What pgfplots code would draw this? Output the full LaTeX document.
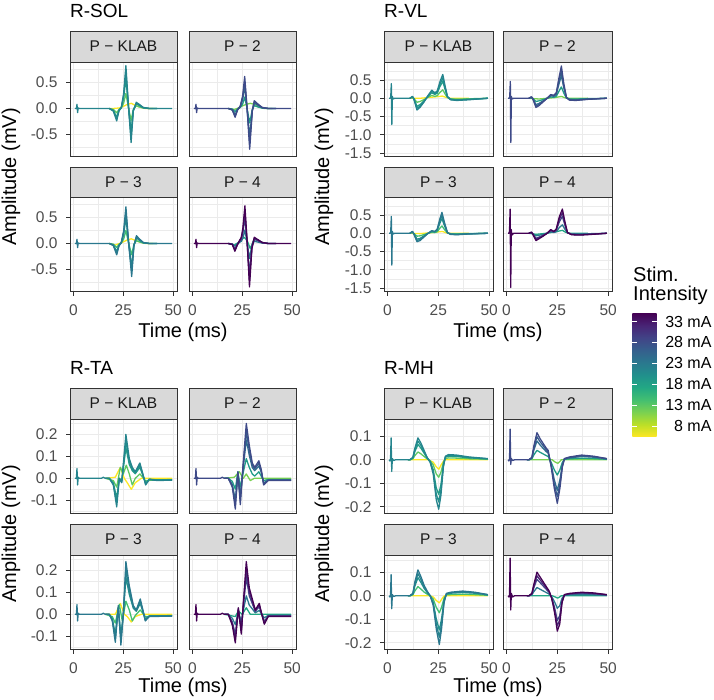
\documentclass[border=0pt]{standalone}
\usepackage{fontspec}
\setmainfont{Liberation Sans}
\usepackage{pgfplots}
\pgfplotsset{compat=1.18}
\definecolor{grey10}{HTML}{1A1A1A}
\definecolor{grey20}{HTML}{333333}
\definecolor{grey30}{HTML}{4D4D4D}
\definecolor{grey85}{HTML}{D9D9D9}
\definecolor{grey92}{HTML}{EBEBEB}
\definecolor{v00}{HTML}{440154}
\definecolor{v10}{HTML}{482576}
\definecolor{v20}{HTML}{414487}
\definecolor{v30}{HTML}{35608D}
\definecolor{v40}{HTML}{2A788E}
\definecolor{v50}{HTML}{21908C}
\definecolor{v60}{HTML}{22A884}
\definecolor{v70}{HTML}{43BF71}
\definecolor{v80}{HTML}{7AD151}
\definecolor{v90}{HTML}{BBDF27}
\definecolor{v100}{HTML}{FDE725}
\colorlet{t045}{v40!50!v50}
\colorlet{t075}{v70!50!v80}
\colorlet{t055}{v50!50!v60}
\colorlet{t022}{v20!80!v30}
\colorlet{t028}{v30!80!v20}
\colorlet{t035}{v30!50!v40}
\newcommand\fsz[1]{\fontsize{#1}{#1}\selectfont}
\pgfdeclareverticalshading{viridisbar}{100bp}{color(0bp)=(v100); color(25bp)=(v100); color(30bp)=(v90); color(35bp)=(v80); color(40bp)=(v70); color(45bp)=(v60); color(50bp)=(v50); color(55bp)=(v40); color(60bp)=(v30); color(65bp)=(v20); color(70bp)=(v10); color(75bp)=(v00); color(100bp)=(v00)}
\pgfplotsset{
  facet/.style={
    scale only axis, height=94.5pt, anchor=north west,
    xmin=-1.7, xmax=51.9,
    xtick={0,25,50}, xticklabels={0,25,50}, minor xtick={12.5,37.5},
    grid=both,
    major grid style={draw=grey92, line width=1.1pt},
    minor grid style={draw=grey92, line width=0.55pt},
    axis line style={draw=grey20, line width=0.9pt},
    tick align=outside, tick pos=left,
    major tick length=4pt, minor tick length=0pt,
    tick style={draw=grey20, line width=0.9pt},
    ticklabel style={font=\fsz{15.5}, text=grey30},
    xticklabel style={yshift=-5.5pt},
    yticklabel style={xshift=-5pt},
    every axis plot/.append style={line width=1.3pt, line join=round},
  },
  noxl/.style={xticklabels={}, major x tick style={draw=none}},
  noyl/.style={yticklabels={}, major y tick style={draw=none}},
  wa/.style={width=107pt},
  wb/.style={width=109pt},
  sol/.style={ymin=-0.93, ymax=0.90, ytick={-0.5,0,0.5}, yticklabels={-0.5,0.0,0.5}, minor ytick={-0.75,-0.25,0.25,0.75}},
  vl/.style={ymin=-1.59, ymax=0.99, ytick={-1.5,-1,-0.5,0,0.5}, yticklabels={-1.5,-1.0,-0.5,0.0,0.5}, minor ytick={-1.25,-0.75,-0.25,0.25,0.75}},
  ta/.style={ymin=-0.16, ymax=0.27, ytick={-0.1,0,0.1,0.2}, yticklabels={-0.1,0.0,0.1,0.2}, minor ytick={-0.15,-0.05,0.05,0.15,0.25}},
  mh/.style={ymin=-0.228, ymax=0.173, ytick={-0.2,-0.1,0,0.1}, yticklabels={-0.2,-0.1,0.0,0.1}, minor ytick={-0.15,-0.05,0.05,0.15}},
}
\newcommand\strip[5]{%
  \draw[fill=grey85,draw=grey20,line width=0.9pt] (#1pt,-#2pt) rectangle (#3pt,-#4pt);
  \node[font=\fsz{15.5},text=grey10,inner sep=0] at ({(#1+#3)/2*1pt},{-(#2+#4)/2*1pt}) {#5};}
\begin{document}
\begin{tikzpicture}
\useasboundingbox (0pt,0pt) rectangle (714pt,-699pt);
% ================= R-SOL =================
\begin{axis}[facet, wa, sol, noxl, at={(70pt,-62pt)}]
\addplot[v100] coordinates {(18,0)(20,0)(23,0.01)(25,0.04)(27,0.08)(29,0.1)(31,0.06)(33,0.03)(36,0)(40,0)};
\addplot[t075] coordinates {(18,0)(20,-0.018)(21.7,-0.084)(22.8,-0.018)(24,0.007)(25.2,0.105)(26.3,0.29)(27.5,0.035)(28.9,-0.23)(30,-0.018)(31.5,0.05)(33,0.03)(35,0.007)(38,0)(42,0)};
\addplot[t055] coordinates {(18,0)(20,-0.035)(21.7,-0.17)(22.8,-0.035)(24,0.014)(25.2,0.21)(26.3,0.58)(27.5,0.07)(28.9,-0.46)(30,-0.035)(31.5,0.09)(33,0.056)(35,0.014)(38,0)(42,0)};
\addplot[v50] coordinates {(18,0)(20,-0.043)(21.7,-0.204)(22.8,-0.043)(24,0.017)(25.2,0.255)(26.3,0.706)(27.5,0.085)(28.9,-0.561)(30,-0.043)(31.5,0.102)(33,0.068)(35,0.017)(38,0)(42,0)};
\addplot[t045] coordinates {(0.8,0)(1.5,0)(1.8,0.08)(2.1,-0.08)(2.4,0.01)(3,0)(18,0)(20,-0.05)(21.7,-0.24)(22.8,-0.05)(24,0.02)(25.2,0.3)(26.3,0.83)(27.5,0.1)(28.9,-0.66)(30,-0.05)(31.5,0.12)(33,0.08)(35,0.02)(38,0)(49.4,0)};
\end{axis}
\begin{axis}[facet, wa, sol, noxl, noyl, at={(189pt,-62pt)}]
\addplot[v80] coordinates {(18,0)(21,-0.02)(23,0.01)(25,0.05)(27,0.08)(29,0.1)(31,0.08)(33,0.03)(36,0)(40,0)};
\addplot[t055] coordinates {(18,0)(20,-0.01)(21.4,-0.06)(22.6,-0.01)(24,0.018)(25.2,0.088)(26.2,0.22)(27.4,0)(28.7,-0.28)(30,-0.018)(31,0.053)(33,0.028)(35,0.007)(38,0)(42,0)};
\addplot[t035] coordinates {(18,0)(20,-0.021)(21.4,-0.12)(22.6,-0.021)(24,0.035)(25.2,0.175)(26.2,0.43)(27.4,0)(28.7,-0.55)(30,-0.035)(31,0.105)(33,0.056)(35,0.014)(38,0)(42,0)};
\addplot[t028] coordinates {(18,0)(20,-0.026)(21.4,-0.145)(22.6,-0.026)(24,0.043)(25.2,0.213)(26.2,0.527)(27.4,0)(28.7,-0.672)(30,-0.043)(31,0.128)(33,0.068)(35,0.017)(38,0)(42,0)};
\addplot[t022] coordinates {(0.8,0)(1.5,0)(1.8,0.08)(2.1,-0.08)(2.4,0.01)(3,0)(18,0)(20,-0.03)(21.4,-0.17)(22.6,-0.03)(24,0.05)(25.2,0.25)(26.2,0.62)(27.4,0)(28.7,-0.79)(30,-0.05)(31,0.15)(33,0.08)(35,0.02)(38,0)(49.4,0)};
\end{axis}
\begin{axis}[facet, wa, sol, at={(70pt,-197pt)}]
\addplot[v100] coordinates {(18,0)(21,-0.03)(23,0)(25,0.03)(27,0.07)(29,0.09)(31,0.06)(33,0.03)(36,0)(40,0)};
\addplot[v70] coordinates {(18,0)(20,-0.014)(21.7,-0.077)(22.8,-0.018)(24,0.007)(25.2,0.088)(26.3,0.25)(27.6,0.018)(29.2,-0.22)(30.3,-0.018)(31.6,0.053)(33,0.032)(35,0.007)(38,0)(42,0)};
\addplot[v50] coordinates {(18,0)(20,-0.028)(21.7,-0.154)(22.8,-0.035)(24,0.014)(25.2,0.175)(26.3,0.5)(27.6,0.035)(29.2,-0.45)(30.3,-0.035)(31.6,0.105)(33,0.063)(35,0.014)(38,0)(42,0)};
\addplot[t045] coordinates {(18,0)(20,-0.034)(21.7,-0.187)(22.8,-0.043)(24,0.017)(25.2,0.213)(26.3,0.604)(27.6,0.043)(29.2,-0.544)(30.3,-0.043)(31.6,0.128)(33,0.077)(35,0.017)(38,0)(42,0)};
\addplot[v40] coordinates {(0.8,0)(1.5,0)(1.8,0.08)(2.1,-0.08)(2.4,0.01)(3,0)(18,0)(20,-0.04)(21.7,-0.22)(22.8,-0.05)(24,0.02)(25.2,0.25)(26.3,0.71)(27.6,0.05)(29.2,-0.64)(30.3,-0.05)(31.6,0.15)(33,0.09)(35,0.02)(38,0)(49.4,0)};
\end{axis}
\begin{axis}[facet, wa, sol, noyl, at={(189pt,-197pt)}]
\addplot[v60] coordinates {(18,0)(21,-0.03)(23,0.02)(24.5,0.08)(26,0.12)(27.5,0.05)(29,-0.1)(30.5,0.05)(32,0.08)(35,0.02)(38,0)};
\addplot[v40] coordinates {(18,0)(20,-0.007)(21.3,-0.053)(22.5,-0.01)(23.5,0.018)(24.5,0.042)(25.3,0.105)(26.3,0.26)(27.4,0.018)(28.6,-0.29)(29.8,-0.035)(31,0.042)(33,0.025)(35,0.007)(38,0)(42,0)};
\addplot[v20] coordinates {(18,0)(20,-0.014)(21.3,-0.105)(22.5,-0.021)(23.5,0.035)(24.5,0.084)(25.3,0.21)(26.3,0.51)(27.4,0.035)(28.6,-0.59)(29.8,-0.07)(31,0.084)(33,0.049)(35,0.014)(38,0)(42,0)};
\addplot[v10] coordinates {(18,0)(20,-0.017)(21.3,-0.128)(22.5,-0.026)(23.5,0.043)(24.5,0.102)(25.3,0.255)(26.3,0.62)(27.4,0.043)(28.6,-0.714)(29.8,-0.085)(31,0.102)(33,0.06)(35,0.017)(38,0)(42,0)};
\addplot[v00] coordinates {(0.8,0)(1.5,0)(1.8,0.08)(2.1,-0.08)(2.4,0.01)(3,0)(18,0)(20,-0.02)(21.3,-0.15)(22.5,-0.03)(23.5,0.05)(24.5,0.12)(25.3,0.3)(26.3,0.73)(27.4,0.05)(28.6,-0.84)(29.8,-0.1)(31,0.12)(33,0.07)(35,0.02)(38,0)(49.4,0)};
\end{axis}
% ================= R-VL =================
\begin{axis}[facet, wb, vl, noxl, at={(384pt,-62pt)}]
\addplot[v100] coordinates {(11,0)(16,0)(20,0.02)(24,0.04)(27,0.06)(29,0.02)(31,0)(40,0)};
\addplot[t075] coordinates {(11,0)(12.3,0.018)(13,-0.007)(14.5,-0.11)(16,-0.088)(18,-0.035)(20,0.028)(21.8,0.077)(23.3,0.053)(24.5,0.07)(25.8,0.16)(27.2,0.23)(28.3,0.12)(29.5,0.018)(31,-0.014)(34,-0.021)(40,-0.014)(49.4,0)};
\addplot[t055] coordinates {(11,0)(12.3,0.035)(13,-0.014)(14.5,-0.22)(16,-0.175)(18,-0.07)(20,0.056)(21.8,0.15)(23.3,0.105)(24.5,0.14)(25.8,0.32)(27.2,0.46)(28.3,0.25)(29.5,0.035)(31,-0.028)(34,-0.042)(40,-0.028)(49.4,0)};
\addplot[v50] coordinates {(11,0)(12.3,0.043)(13,-0.017)(14.5,-0.272)(16,-0.213)(18,-0.085)(20,0.068)(21.8,0.187)(23.3,0.128)(24.5,0.17)(25.8,0.383)(27.2,0.553)(28.3,0.298)(29.5,0.043)(31,-0.034)(34,-0.051)(40,-0.034)(49.4,0)};
\addplot[t045] coordinates {(0.8,0)(1.3,0)(1.6,0.02)(1.9,0.4)(2.15,-0.72)(2.4,0.05)(2.8,-0.02)(3.5,0)(11,0)(12.3,0.05)(13,-0.02)(14.5,-0.32)(16,-0.25)(18,-0.1)(20,0.08)(21.8,0.22)(23.3,0.15)(24.5,0.2)(25.8,0.45)(27.2,0.65)(28.3,0.35)(29.5,0.05)(31,-0.04)(34,-0.06)(40,-0.04)(49.4,0)};
\end{axis}
\begin{axis}[facet, wb, vl, noxl, noyl, at={(503pt,-62pt)}]
\addplot[v80] coordinates {(11,0)(16,-0.02)(20,0)(24,0.02)(27,0.05)(29,0.01)(31,0)(40,0)};
\addplot[t055] coordinates {(11,0)(12.3,0.014)(13,-0.007)(14.5,-0.088)(16,-0.07)(18,-0.035)(20,0)(21.8,0.035)(23.3,0.028)(24.5,0.053)(25.8,0.19)(27,0.31)(28.2,0.14)(29.5,0.007)(31,-0.018)(34,-0.021)(40,-0.01)(49.4,0)};
\addplot[t035] coordinates {(11,0)(12.3,0.028)(13,-0.014)(14.5,-0.175)(16,-0.14)(18,-0.07)(20,0)(21.8,0.07)(23.3,0.056)(24.5,0.105)(25.8,0.385)(27,0.62)(28.2,0.28)(29.5,0.014)(31,-0.035)(34,-0.042)(40,-0.021)(49.4,0)};
\addplot[t028] coordinates {(11,0)(12.3,0.034)(13,-0.017)(14.5,-0.213)(16,-0.17)(18,-0.085)(20,0)(21.8,0.085)(23.3,0.068)(24.5,0.128)(25.8,0.468)(27,0.748)(28.2,0.34)(29.5,0.017)(31,-0.043)(34,-0.051)(40,-0.026)(49.4,0)};
\addplot[t022] coordinates {(0.8,0)(1.3,0)(1.6,0.03)(1.9,0.46)(2.15,-1.21)(2.4,0.05)(2.8,-0.02)(3.5,0)(11,0)(12.3,0.04)(13,-0.02)(14.5,-0.25)(16,-0.2)(18,-0.1)(20,0)(21.8,0.1)(23.3,0.08)(24.5,0.15)(25.8,0.55)(27,0.88)(28.2,0.4)(29.5,0.02)(31,-0.05)(34,-0.06)(40,-0.03)(49.4,0)};
\end{axis}
\begin{axis}[facet, wb, vl, at={(384pt,-197pt)}]
\addplot[v100] coordinates {(11,0)(16,-0.01)(20,0.01)(24,0.03)(27,0.05)(29,0.01)(31,0)(40,0)};
\addplot[v70] coordinates {(11,0)(12.3,0.018)(13,-0.007)(14.5,-0.08)(16,-0.07)(18,-0.035)(20,0)(21.8,0.025)(23.3,0.018)(24.5,0.042)(25.8,0.14)(26.8,0.2)(28,0.105)(29.5,0.007)(31,-0.01)(34,-0.014)(40,-0.007)(49.4,0)};
\addplot[v50] coordinates {(11,0)(12.3,0.035)(13,-0.014)(14.5,-0.16)(16,-0.14)(18,-0.07)(20,0)(21.8,0.05)(23.3,0.035)(24.5,0.084)(25.8,0.28)(26.8,0.4)(28,0.21)(29.5,0.014)(31,-0.021)(34,-0.028)(40,-0.014)(49.4,0)};
\addplot[t045] coordinates {(11,0)(12.3,0.043)(13,-0.017)(14.5,-0.196)(16,-0.17)(18,-0.085)(20,0)(21.8,0.06)(23.3,0.043)(24.5,0.102)(25.8,0.34)(26.8,0.485)(28,0.255)(29.5,0.017)(31,-0.026)(34,-0.034)(40,-0.017)(49.4,0)};
\addplot[v40] coordinates {(0.8,0)(1.3,0)(1.6,0.03)(1.9,0.46)(2.15,-0.87)(2.4,0.05)(2.8,-0.02)(3.5,0)(11,0)(12.3,0.05)(13,-0.02)(14.5,-0.23)(16,-0.2)(18,-0.1)(20,0)(21.8,0.07)(23.3,0.05)(24.5,0.12)(25.8,0.4)(26.8,0.57)(28,0.3)(29.5,0.02)(31,-0.03)(34,-0.04)(40,-0.02)(49.4,0)};
\end{axis}
\begin{axis}[facet, wb, vl, noyl, at={(503pt,-197pt)}]
\addplot[v60] coordinates {(11,0)(14.5,-0.03)(18,-0.01)(22,0.02)(25,0.05)(27.5,0.08)(29,0.03)(31,0)(40,0)};
\addplot[v40] coordinates {(11,0)(12.3,0.01)(13,-0.01)(14.5,-0.07)(16,-0.053)(18,-0.028)(20,0)(21.8,0.035)(23.3,0.018)(24.5,0.042)(26,0.158)(27.5,0.23)(28.8,0.105)(30,0.007)(32,-0.014)(36,-0.018)(42,-0.01)(49.4,0)};
\addplot[v20] coordinates {(11,0)(12.3,0.021)(13,-0.021)(14.5,-0.14)(16,-0.105)(18,-0.056)(20,0)(21.8,0.07)(23.3,0.035)(24.5,0.084)(26,0.315)(27.5,0.46)(28.8,0.21)(30,0.014)(32,-0.028)(36,-0.035)(42,-0.021)(49.4,0)};
\addplot[v10] coordinates {(11,0)(12.3,0.026)(13,-0.026)(14.5,-0.17)(16,-0.128)(18,-0.068)(20,0)(21.8,0.085)(23.3,0.043)(24.5,0.102)(26,0.383)(27.5,0.561)(28.8,0.255)(30,0.017)(32,-0.034)(36,-0.043)(42,-0.026)(49.4,0)};
\addplot[v00] coordinates {(0.8,0)(1.2,0)(1.5,0.05)(1.8,0.66)(2.1,-1.48)(2.35,0.1)(2.7,-0.05)(3.5,0)(11,0)(12.3,0.03)(13,-0.03)(14.5,-0.2)(16,-0.15)(18,-0.08)(20,0)(21.8,0.1)(23.3,0.05)(24.5,0.12)(26,0.45)(27.5,0.66)(28.8,0.3)(30,0.02)(32,-0.04)(36,-0.05)(42,-0.03)(49.4,0)};
\end{axis}
% ================= R-TA =================
\begin{axis}[facet, wa, ta, noxl, at={(70pt,-419pt)}]
\addplot[v100] coordinates {(16,0)(21,0.005)(23.5,0.05)(25.5,0)(27,-0.02)(29,-0.05)(31,-0.02)(34,0)(49.4,0)};
\addplot[t075] coordinates {(16,0)(20,-0.01)(21.7,-0.04)(23.5,0.05)(25,0.02)(26.5,0.06)(28,0.02)(29.5,-0.03)(31,0)(33.3,0.02)(36,-0.01)(49.4,-0.005)};
\addplot[t055] coordinates {(16,0)(18,0)(20,-0.021)(21.7,-0.09)(23,0)(24.2,-0.014)(26.3,0.14)(28,0.063)(29.5,0.035)(31,0.021)(33.3,0.05)(34.5,0.021)(36.2,-0.021)(38,-0.004)(42,-0.007)(49.4,-0.006)};
\addplot[v50] coordinates {(16,0)(18,0)(20,-0.026)(21.7,-0.11)(23,0)(24.2,-0.017)(26.3,0.17)(28,0.077)(29.5,0.043)(31,0.026)(33.3,0.06)(34.5,0.026)(36.2,-0.026)(38,-0.004)(42,-0.009)(49.4,-0.007)};
\addplot[t045] coordinates {(0.8,0)(1.5,0)(1.8,0.045)(2.1,-0.03)(2.4,0.005)(3,0)(14,0)(15,0.005)(16,0)(18,0)(20,-0.03)(21.7,-0.13)(23,0)(24.2,-0.02)(26.3,0.2)(28,0.09)(29.5,0.05)(31,0.03)(33.3,0.07)(34.5,0.03)(36.2,-0.03)(38,-0.005)(42,-0.01)(49.4,-0.008)};
\end{axis}
\begin{axis}[facet, wa, ta, noxl, noyl, at={(189pt,-419pt)}]
\addplot[v80] coordinates {(16,0)(21,0.005)(23.5,0.03)(25.5,0)(27,0.02)(29,-0.01)(31,0)(49.4,0)};
\addplot[t055] coordinates {(16,0)(18,0)(20,-0.014)(21.5,-0.049)(22.8,0.03)(24,-0.04)(25.3,0.02)(27,0.09)(28.5,0.05)(30,0.02)(31.2,0.01)(33.3,0.03)(34.5,0.01)(35.7,-0.01)(38,-0.005)(49.4,-0.005)};
\addplot[t035] coordinates {(16,0)(18,0)(20,-0.028)(21.5,-0.098)(22.8,0.021)(24,-0.084)(25.3,0.035)(27,0.175)(28.5,0.105)(30,0.049)(31.2,0.035)(33.3,0.056)(34.5,0.028)(35.7,-0.021)(38,-0.007)(49.4,-0.007)};
\addplot[t028] coordinates {(16,0)(18,0)(20,-0.034)(21.5,-0.119)(22.8,0.026)(24,-0.102)(25.3,0.043)(27,0.213)(28.5,0.128)(30,0.06)(31.2,0.043)(33.3,0.068)(34.5,0.034)(35.7,-0.026)(38,-0.009)(49.4,-0.009)};
\addplot[t022] coordinates {(0.8,0)(1.5,0)(1.8,0.045)(2.1,-0.03)(2.4,0.005)(3,0)(14,0)(15,0.005)(16,0)(18,0)(20,-0.04)(21.5,-0.14)(22.8,0.03)(24,-0.12)(25.3,0.05)(27,0.25)(28.5,0.15)(30,0.07)(31.2,0.05)(33.3,0.08)(34.5,0.04)(35.7,-0.03)(38,-0.01)(49.4,-0.01)};
\end{axis}
\begin{axis}[facet, wa, ta, at={(70pt,-555pt)}]
\addplot[v100] coordinates {(16,0)(21,0)(23.5,0.05)(25.5,0)(27,-0.01)(29,-0.035)(31,-0.01)(34,0)(49.4,0)};
\addplot[v70] coordinates {(16,0)(19.5,-0.01)(21,-0.04)(23,0.045)(24.5,-0.03)(26.3,0.06)(28,0.02)(29.5,-0.03)(31,-0.005)(33.5,0.02)(36,-0.01)(49.4,-0.005)};
\addplot[v50] coordinates {(16,0)(18,0)(19.5,-0.021)(21,-0.089)(22.5,0.028)(23.8,-0.098)(25,0)(26.3,0.168)(28,0.091)(30,0.028)(31.5,0.014)(33.5,0.049)(34.8,0.014)(36,-0.021)(38,-0.007)(49.4,-0.006)};
\addplot[t045] coordinates {(16,0)(18,0)(19.5,-0.026)(21,-0.108)(22.5,0.034)(23.8,-0.119)(25,0)(26.3,0.204)(28,0.11)(30,0.034)(31.5,0.017)(33.5,0.06)(34.8,0.017)(36,-0.026)(38,-0.009)(49.4,-0.007)};
\addplot[v40] coordinates {(0.8,0)(1.5,0)(1.8,0.045)(2.1,-0.03)(2.4,0.005)(3,0)(14,0)(15,0.005)(16,0)(18,0)(19.5,-0.03)(21,-0.127)(22.5,0.04)(23.8,-0.14)(25,0)(26.3,0.24)(28,0.13)(30,0.04)(31.5,0.02)(33.5,0.07)(34.8,0.02)(36,-0.03)(38,-0.01)(49.4,-0.008)};
\end{axis}
\begin{axis}[facet, wa, ta, noyl, at={(189pt,-555pt)}]
\addplot[v60] coordinates {(16,0)(21.5,-0.01)(23,0.015)(25,0)(27,0.03)(29,0)(31,0)(49.4,0)};
\addplot[v40] coordinates {(16,0)(18,0)(20,-0.018)(21.5,-0.046)(23,0.011)(24.5,-0.032)(25.5,0.018)(27,0.084)(28.5,0.042)(30,0.025)(31.5,0.007)(33.5,0.018)(34.5,0.004)(36,-0.016)(38,-0.004)(49.4,-0.004)};
\addplot[v20] coordinates {(16,0)(18,0)(20,-0.035)(21.5,-0.091)(23,0.021)(24.5,-0.063)(25.5,0.035)(27,0.168)(28.5,0.084)(30,0.049)(31.5,0.014)(33.5,0.035)(34.5,0.007)(36,-0.032)(38,-0.007)(49.4,-0.007)};
\addplot[v10] coordinates {(16,0)(18,0)(20,-0.043)(21.5,-0.11)(23,0.026)(24.5,-0.077)(25.5,0.043)(27,0.204)(28.5,0.102)(30,0.06)(31.5,0.017)(33.5,0.043)(34.5,0.009)(36,-0.038)(38,-0.009)(49.4,-0.009)};
\addplot[v00] coordinates {(0.8,0)(1.5,0)(1.8,0.045)(2.1,-0.03)(2.4,0.005)(3,0)(14,0)(15,0.005)(16,0)(18,0)(20,-0.05)(21.5,-0.13)(23,0.03)(24.5,-0.09)(25.5,0.05)(27,0.24)(28.5,0.12)(30,0.07)(31.5,0.02)(33.5,0.05)(34.5,0.01)(36,-0.045)(38,-0.01)(49.4,-0.01)};
\end{axis}
% ================= R-MH =================
\begin{axis}[facet, wb, mh, noxl, at={(384pt,-419pt)}]
\addplot[v100] coordinates {(10,0)(20,0)(22.5,-0.01)(24,-0.03)(25.3,-0.04)(26.5,-0.02)(28,0)(49.4,0)};
\addplot[t075] coordinates {(10,0)(11,0)(12.5,0.004)(13.5,0.018)(15,0.033)(16.5,0.025)(18,0.014)(19.5,0.004)(21,-0.004)(22.5,-0.021)(24,-0.06)(25.2,-0.074)(26.3,-0.053)(27.5,-0.011)(28.5,0.005)(30,0.008)(34,0.007)(40,0.004)(49.4,0.002)};
\addplot[t055] coordinates {(10,0)(11,0)(12.5,0.007)(13.5,0.035)(15,0.065)(16.5,0.049)(18,0.028)(19.5,0.007)(21,-0.007)(22.5,-0.042)(24,-0.119)(25.2,-0.147)(26.3,-0.105)(27.5,-0.021)(28.5,0.011)(30,0.015)(34,0.014)(40,0.008)(49.4,0.004)};
\addplot[v50] coordinates {(10,0)(11,0)(12.5,0.009)(13.5,0.043)(15,0.079)(16.5,0.06)(18,0.034)(19.5,0.009)(21,-0.009)(22.5,-0.051)(24,-0.145)(25.2,-0.179)(26.3,-0.128)(27.5,-0.026)(28.5,0.013)(30,0.019)(34,0.017)(40,0.01)(49.4,0.004)};
\addplot[t045] coordinates {(0.8,0)(1.2,-0.005)(1.5,0)(1.8,0.093)(2.1,-0.05)(2.4,0.005)(3,-0.003)(4,0)(11,0)(12.5,0.01)(13.5,0.05)(15,0.093)(16.5,0.07)(18,0.04)(19.5,0.01)(21,-0.01)(22.5,-0.06)(24,-0.17)(25.2,-0.21)(26.3,-0.15)(27.5,-0.03)(28.5,0.015)(30,0.022)(34,0.02)(40,0.012)(49.4,0.005)};
\end{axis}
\begin{axis}[facet, wb, mh, noxl, noyl, at={(503pt,-419pt)}]
\addplot[v80] coordinates {(10,0)(20,0)(22.5,0)(24,-0.01)(25.3,-0.015)(27,0)(49.4,0)};
\addplot[t055] coordinates {(10,0)(11,0)(12.5,0.004)(13.5,0.021)(15,0.04)(16.5,0.032)(18,0.025)(19.5,0.018)(20.5,0.014)(22,-0.011)(23.5,-0.042)(25,-0.065)(26.3,-0.042)(27.5,-0.011)(28.5,0.002)(31,0.004)(37,0.007)(43,0.005)(49.4,0.002)};
\addplot[t035] coordinates {(10,0)(11,0)(12.5,0.007)(13.5,0.042)(15,0.08)(16.5,0.063)(18,0.049)(19.5,0.035)(20.5,0.028)(22,-0.021)(23.5,-0.084)(25,-0.13)(26.3,-0.084)(27.5,-0.021)(28.5,0.004)(31,0.008)(37,0.014)(43,0.011)(49.4,0.004)};
\addplot[t028] coordinates {(10,0)(11,0)(12.5,0.009)(13.5,0.051)(15,0.098)(16.5,0.077)(18,0.06)(19.5,0.043)(20.5,0.034)(22,-0.026)(23.5,-0.102)(25,-0.157)(26.3,-0.102)(27.5,-0.026)(28.5,0.004)(31,0.01)(37,0.017)(43,0.013)(49.4,0.004)};
\addplot[t022] coordinates {(0.8,0)(1.2,-0.005)(1.5,0)(1.8,0.13)(2.1,-0.02)(2.4,0.005)(3,-0.003)(4,0)(11,0)(12.5,0.01)(13.5,0.06)(15,0.115)(16.5,0.09)(18,0.07)(19.5,0.05)(20.5,0.04)(22,-0.03)(23.5,-0.12)(25,-0.185)(26.3,-0.12)(27.5,-0.03)(28.5,0.005)(31,0.012)(37,0.02)(43,0.015)(49.4,0.005)};
\end{axis}
\begin{axis}[facet, wb, mh, at={(384pt,-555pt)}]
\addplot[v100] coordinates {(10,0)(21,0)(22.5,-0.005)(24,-0.02)(25.5,-0.03)(27,-0.01)(28,0)(49.4,0)};
\addplot[v70] coordinates {(10,0)(11,0)(12.5,0.004)(13.5,0.021)(15,0.039)(16.5,0.028)(18,0.016)(19.5,0.007)(21,0)(22.5,-0.014)(24,-0.049)(25.5,-0.072)(26.6,-0.049)(27.8,-0.011)(29,0.004)(31,0.005)(37,0.007)(43,0.005)(49.4,0.002)};
\addplot[v50] coordinates {(10,0)(11,0)(12.5,0.007)(13.5,0.042)(15,0.077)(16.5,0.056)(18,0.032)(19.5,0.014)(21,0)(22.5,-0.028)(24,-0.098)(25.5,-0.145)(26.6,-0.098)(27.8,-0.021)(29,0.007)(31,0.011)(37,0.014)(43,0.011)(49.4,0.004)};
\addplot[t045] coordinates {(10,0)(11,0)(12.5,0.009)(13.5,0.051)(15,0.094)(16.5,0.068)(18,0.038)(19.5,0.017)(21,0)(22.5,-0.034)(24,-0.119)(25.5,-0.176)(26.6,-0.119)(27.8,-0.026)(29,0.009)(31,0.013)(37,0.017)(43,0.013)(49.4,0.004)};
\addplot[v40] coordinates {(0.8,0)(1.2,-0.005)(1.5,0)(1.8,0.09)(2.1,-0.055)(2.4,0.005)(3,-0.003)(4,0)(11,0)(12.5,0.01)(13.5,0.06)(15,0.11)(16.5,0.08)(18,0.045)(19.5,0.02)(21,0)(22.5,-0.04)(24,-0.14)(25.5,-0.207)(26.6,-0.14)(27.8,-0.03)(29,0.01)(31,0.015)(37,0.02)(43,0.015)(49.4,0.005)};
\end{axis}
\begin{axis}[facet, wb, mh, noyl, at={(503pt,-555pt)}]
\addplot[v60] coordinates {(10,0)(20,0)(22.5,0)(24,-0.005)(25.2,-0.01)(27,0)(49.4,0)};
\addplot[v40] coordinates {(10,0)(11,0)(12.5,0.004)(13.5,0.018)(15,0.035)(16.5,0.028)(18,0.021)(19.5,0.014)(21,0.007)(22.2,-0.004)(23.2,-0.018)(24,-0.032)(25,-0.053)(26.2,-0.042)(27.3,-0.011)(28.5,0.002)(31,0.004)(37,0.005)(43,0.004)(49.4,0.002)};
\addplot[v20] coordinates {(10,0)(11,0)(12.5,0.007)(13.5,0.035)(15,0.07)(16.5,0.056)(18,0.042)(19.5,0.028)(21,0.014)(22.2,-0.007)(23.2,-0.035)(24,-0.063)(25,-0.105)(26.2,-0.084)(27.3,-0.021)(28.5,0.004)(31,0.007)(37,0.011)(43,0.008)(49.4,0.004)};
\addplot[v10] coordinates {(10,0)(11,0)(12.5,0.009)(13.5,0.043)(15,0.085)(16.5,0.068)(18,0.051)(19.5,0.034)(21,0.017)(22.2,-0.009)(23.2,-0.043)(24,-0.077)(25,-0.128)(26.2,-0.102)(27.3,-0.026)(28.5,0.004)(31,0.009)(37,0.013)(43,0.01)(49.4,0.004)};
\addplot[v00] coordinates {(0.8,0)(1.2,-0.005)(1.5,0)(1.8,0.16)(2.1,-0.06)(2.4,0.01)(3,-0.005)(4,0)(11,0)(12.5,0.01)(13.5,0.05)(15,0.1)(16.5,0.08)(18,0.06)(19.5,0.04)(21,0.02)(22.2,-0.01)(23.2,-0.05)(24,-0.09)(25,-0.15)(26.2,-0.12)(27.3,-0.03)(28.5,0.005)(31,0.01)(37,0.015)(43,0.012)(49.4,0.005)};
\end{axis}
% ================= strips =================
\strip{70}{31}{177}{62}{P − KLAB}
\strip{189}{31}{296}{62}{P − 2}
\strip{70}{167}{177}{197}{P − 3}
\strip{189}{167}{296}{197}{P − 4}
\strip{384}{31}{493}{62}{P − KLAB}
\strip{503}{31}{612}{62}{P − 2}
\strip{384}{167}{493}{197}{P − 3}
\strip{503}{167}{612}{197}{P − 4}
\strip{70}{388}{177}{419}{P − KLAB}
\strip{189}{388}{296}{419}{P − 2}
\strip{70}{524}{177}{555}{P − 3}
\strip{189}{524}{296}{555}{P − 4}
\strip{384}{388}{493}{419}{P − KLAB}
\strip{503}{388}{612}{419}{P − 2}
\strip{384}{524}{493}{555}{P − 3}
\strip{503}{524}{612}{555}{P − 4}
% ================= titles and labels =================
\node[font=\fsz{19},anchor=base west,inner sep=0] at (70pt,-17.3pt) {R-SOL};
\node[font=\fsz{19},anchor=base west,inner sep=0] at (384pt,-17.3pt) {R-VL};
\node[font=\fsz{19},anchor=base west,inner sep=0] at (70pt,-374pt) {R-TA};
\node[font=\fsz{19},anchor=base west,inner sep=0] at (384pt,-374pt) {R-MH};
\node[font=\fsz{20},anchor=base,inner sep=0] at (183pt,-337pt) {Time (ms)};
\node[font=\fsz{20},anchor=base,inner sep=0] at (498pt,-337pt) {Time (ms)};
\node[font=\fsz{20},anchor=base,inner sep=0] at (183pt,-692.7pt) {Time (ms)};
\node[font=\fsz{20},anchor=base,inner sep=0] at (498pt,-692.7pt) {Time (ms)};
\node[font=\fsz{20},rotate=90,inner sep=0] at (11pt,-177pt) {Amplitude (mV)};
\node[font=\fsz{20},rotate=90,inner sep=0] at (324pt,-177pt) {Amplitude (mV)};
\node[font=\fsz{20},rotate=90,inner sep=0] at (11pt,-534pt) {Amplitude (mV)};
\node[font=\fsz{20},rotate=90,inner sep=0] at (324pt,-534pt) {Amplitude (mV)};
% ================= legend =================
\node[font=\fsz{20},anchor=base west,inner sep=0] at (633pt,-281.7pt) {Stim.};
\node[font=\fsz{20},anchor=base west,inner sep=0] at (633pt,-300pt) {Intensity};
\shade[shading=viridisbar] (632.3pt,-436.7pt) rectangle (656.7pt,-313.3pt);
\foreach \yy/\lab in {321.5/33 mA,342.4/28 mA,363.3/23 mA,384.2/18 mA,405.1/13 mA,426.0/8 mA}{
  \draw[white,line width=0.6pt] (632.3pt,-\yy pt) -- ++(4.9pt,0);
  \draw[white,line width=0.6pt] (656.7pt,-\yy pt) -- ++(-4.9pt,0);
  \node[font=\fsz{16},anchor=east,inner sep=0] at (711.7pt,-\yy pt) {\lab};
}
\end{tikzpicture}
\end{document}
